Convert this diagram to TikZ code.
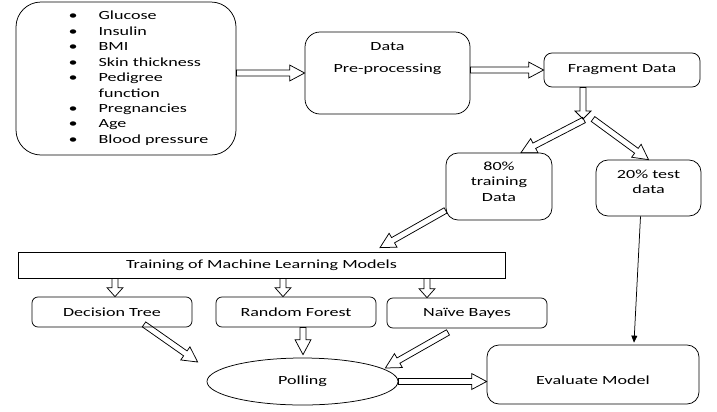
\documentclass[tikz,border=0pt]{standalone}
\usepackage{fontspec}
\setmainfont{Carlito}[FakeStretch=1.45]
\usetikzlibrary{shapes.geometric, arrows.meta, calc}

\begin{document}
\begin{tikzpicture}[x=1bp,y=-1bp,line width=0.75bp,
    font=\fontsize{12.5}{15.5}\selectfont,
    box/.style={draw,rounded corners=#1,inner sep=3bp,align=center},
    box/.default=6bp,
    hollow/.style={to path={let \p1=($(\tikztotarget)!#1!(\tikztostart)$) in
        ($(\tikztostart)!3bp!-90:(\tikztotarget)$) -- ($(\p1)!3bp!-90:(\tikztotarget)$)
        -- ($(\p1)!8bp!-90:(\tikztotarget)$) -- (\tikztotarget)
        -- ($(\p1)!8bp!90:(\tikztotarget)$) -- ($(\p1)!3bp!90:(\tikztotarget)$)
        -- ($(\tikztostart)!3bp!90:(\tikztotarget)$) -- cycle}},
    hollow/.default=15bp,
    thin/.style={-{Triangle[length=7bp,width=6bp]}}]
    \useasboundingbox (0,0) rectangle (717,411);
    \node[box=25bp,minimum width=220bp,minimum height=153bp] (feat) at (126,78.5)
        {\begin{tabular}{@{\hspace{25bp}}c@{\hspace{21bp}}l@{}}
            \textbullet & Glucose\\
            \textbullet & Insulin\\
            \textbullet & BMI\\
            \textbullet & Skin thickness\\
            \textbullet & Pedigree\\
                        & function\\
            \textbullet & Pregnancies\\
            \textbullet & Age\\
            \textbullet & Blood pressure
        \end{tabular}};
    \node[box=15bp,minimum width=165bp,minimum height=82bp,text depth=31bp] (prep) at (387.5,73)
        {Data\\[7.5bp]Pre-processing};
    \node[box=8bp,minimum width=156bp,minimum height=34bp] (frag) at (622,70) {Fragment Data};
    \node[box=12bp,minimum width=106bp,minimum height=67bp,text depth=10bp] (train80) at (499,186.5)
        {80\%\\training\\Data};
    \node[box=12bp,minimum width=105bp,minimum height=56bp,text depth=12.5bp] (test20) at (648.5,188)
        {20\% test\\data};
    \node[draw,minimum width=487bp,minimum height=26bp] (mlbox) at (261.5,265)
        {Training of Machine Learning Models};
    \node[box,minimum width=160bp,minimum height=30bp] (dtree) at (112,312) {Decision Tree};
    \node[box,minimum width=160bp,minimum height=30bp] (rforest) at (296,312) {Random Forest};
    \node[box,minimum width=160bp,minimum height=30bp] (nbayes) at (467,313) {Naïve Bayes};
    \node[draw,ellipse,minimum width=191bp,minimum height=47bp] (poll) at (302.5,381.5) {Polling};
    \node[box=12bp,minimum width=212bp,minimum height=59bp,text height=21bp] (evalm) at (593,374.5)
        {Evaluate Model};
    \coordinate (split) at (583,119);

    \draw[hollow] (feat.east |- prep.west) to (prep.west);
    \draw[hollow] (prep.east |- frag.west) to (frag.west);
    \draw[hollow=8bp] (frag.south -| split) to (split);
    \draw[hollow] ($(split)+(1,1)$) to ($(train80.north)+(22,0)$);
    \draw[hollow] ($(split)+(10,0)$) to (test20.north);
    \draw[hollow] ($(train80.south west)+(0,-10)$) to ($(mlbox.north)+(118.5,-4)$);
    \draw[hollow=9bp] ($(dtree.north |- mlbox.south)+(3,0)$) to ($(dtree.north)+(3,0)$);
    \draw[hollow=9bp] ($(rforest.north |- mlbox.south)+(-13,0)$) to ($(rforest.north)+(-13,0)$);
    \draw[hollow=9bp] ($(nbayes.north |- mlbox.south)+(-40,0)$) to ($(nbayes.north)+(-40,0)$);
    \draw[hollow] ($(dtree.south)+(32,-3)$) to ($(poll.west)+(-9,-19.5)$);
    \draw[hollow] ($(rforest.south)+(7,0)$) to ($(poll.north)+(0.5,-3)$);
    \draw[hollow] ($(nbayes.south)+(-19,4)$) to ($(poll.east)+(-13,-13.5)$);
    \draw[hollow] (poll.east) to (poll.east -| evalm.west);
    \draw[thin] ($(test20.south)+(-8,0)$) -- ($(evalm.north)+(41,-2)$);
\end{tikzpicture}
\end{document}
